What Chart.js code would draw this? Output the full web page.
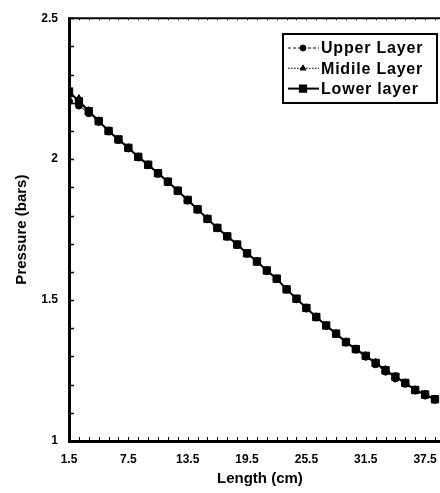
<!DOCTYPE html>
<html><head><meta charset="utf-8">
<script src="https://cdn.jsdelivr.net/npm/chart.js@4"></script>
<style>html,body{margin:0;padding:0;background:#fff;overflow:hidden;width:440px;height:493px}
#wrap{width:457px;height:493px;position:relative}</style>
</head><body><div id="wrap"><canvas id="c" width="457" height="493"></canvas></div>
<script>
const lengthCm = [1.5,2.5,3.5,4.5,5.5,6.5,7.5,8.5,9.5,10.5,11.5,12.5,13.5,14.5,15.5,16.5,17.5,18.5,19.5,20.5,21.5,22.5,23.5,24.5,25.5,26.5,27.5,28.5,29.5,30.5,31.5,32.5,33.5,34.5,35.5,36.5,37.5,38.5];
const upperLayer = [2.205,2.19,2.163,2.132,2.098,2.068,2.038,2.006,1.978,1.948,1.918,1.886,1.853,1.820,1.787,1.755,1.725,1.695,1.664,1.635,1.603,1.574,1.537,1.503,1.470,1.438,1.408,1.379,1.349,1.324,1.299,1.272,1.246,1.222,1.203,1.179,1.161,1.146];
const midileLayer = [2.228,2.215,2.172,2.136,2.101,2.071,2.041,2.009,1.981,1.951,1.921,1.889,1.856,1.823,1.789,1.757,1.727,1.698,1.667,1.638,1.606,1.577,1.539,1.503,1.473,1.441,1.411,1.382,1.352,1.327,1.303,1.279,1.254,1.230,1.207,1.182,1.166,1.149];
const lowerLayer = [2.240,2.205,2.170,2.135,2.100,2.070,2.040,2.008,1.980,1.950,1.920,1.888,1.855,1.822,1.788,1.756,1.726,1.697,1.666,1.637,1.605,1.576,1.538,1.505,1.472,1.440,1.410,1.381,1.351,1.326,1.302,1.277,1.251,1.228,1.206,1.181,1.165,1.148];
const xTickLabels = [1.5,7.5,13.5,19.5,25.5,31.5,37.5];
const yTickLabels = [1,1.5,2,2.5];
const seriesNames = ['Upper Layer','Midile Layer','Lower layer'];

const toPts = arr => lengthCm.map((x,i)=>({x:x,y:arr[i]}));
const FONT = '"Liberation Sans", Arial, sans-serif';

const axesPlugin = {
  id:'axesDraw',
  beforeDatasetsDraw(chart){
    const {ctx, chartArea:a, scales:{x,y}} = chart;
    ctx.save();
    ctx.strokeStyle='#000';
    ctx.lineWidth=1.5;
    for(let v=10; v<=25; v++){
      const py = Math.round(y.getPixelForValue(v/10))+0.5;
      ctx.beginPath(); ctx.moveTo(a.left, py); ctx.lineTo(a.left+5, py); ctx.stroke();
    }
    ctx.lineWidth=1;
    lengthCm.forEach(v=>{
      const px = Math.round(x.getPixelForValue(v))+0.5;
      ctx.beginPath(); ctx.moveTo(px, a.bottom); ctx.lineTo(px, a.bottom-4); ctx.stroke();
      ctx.beginPath(); ctx.moveTo(px, a.top); ctx.lineTo(px, a.top+2); ctx.stroke();
    });
    ctx.lineWidth=2;
    ctx.beginPath(); ctx.moveTo(a.left, a.top); ctx.lineTo(a.right, a.top); ctx.stroke();
    ctx.lineWidth=3;
    ctx.beginPath(); ctx.moveTo(a.left+0.5, a.top-1); ctx.lineTo(a.left+0.5, a.bottom+1.5); ctx.stroke();
    ctx.beginPath(); ctx.moveTo(a.left-1, a.bottom+0.5); ctx.lineTo(a.right, a.bottom+0.5); ctx.stroke();
    ctx.restore();
  }
};

const legendPlugin = {
  id:'boxLegend',
  afterDraw(chart){
    const ctx = chart.ctx;
    const bx=283, by=34, bw=154, bh=69;
    ctx.save();
    ctx.fillStyle='#fff';
    ctx.fillRect(bx,by,bw,bh);
    ctx.strokeStyle='#000'; ctx.lineWidth=2;
    ctx.strokeRect(bx,by,bw,bh);
    chart.data.datasets.forEach((ds,i)=>{
      const cy = by + 14 + i*20.3;
      ctx.strokeStyle='#000';
      ctx.lineWidth = ds.borderWidth;
      ctx.setLineDash(ds.borderDash || []);
      ctx.beginPath(); ctx.moveTo(bx+5, cy); ctx.lineTo(bx+36, cy); ctx.stroke();
      ctx.setLineDash([]);
      ctx.fillStyle='#000';
      Chart.helpers.drawPoint(ctx, {pointStyle: ds.pointStyle, radius: ds.pointRadius*0.85, borderWidth:1}, bx+20, cy);
      ctx.fillStyle='#000';
      ctx.font = 'bold 16px '+FONT;
      ctx.letterSpacing = '0.8px';
      ctx.textBaseline='middle'; ctx.textAlign='left';
      ctx.fillText(ds.label, bx+38, cy+1);
    });
    ctx.restore();
  }
};

new Chart(document.getElementById('c'), {
  type:'line',
  data:{
    datasets:[
      {label:seriesNames[0], data:toPts(upperLayer), borderColor:'#000', backgroundColor:'#000', borderWidth:1, borderDash:[3,2], pointStyle:'circle', pointRadius:3.5, pointBorderWidth:1, order:2},
      {label:seriesNames[1], data:toPts(midileLayer), borderColor:'#000', backgroundColor:'#000', borderWidth:1, borderDash:[1.5,1.5], pointStyle:'triangle', pointRadius:4, pointBorderWidth:1, order:1},
      {label:seriesNames[2], data:toPts(lowerLayer), borderColor:'#000', backgroundColor:'#000', borderWidth:2, pointStyle:'rect', pointRadius:5.2, pointBorderWidth:1, order:0}
    ]
  },
  options:{
    responsive:false, animation:false, devicePixelRatio:1,
    layout:{padding:{top:17,left:0,right:0,bottom:0}},
    plugins:{legend:{display:false}, tooltip:{enabled:false}},
    elements:{line:{tension:0}},
    scales:{
      x:{type:'linear', min:1.5, max:40.1,
        afterBuildTicks: s => { s.ticks = xTickLabels.map(v=>({value:v})); },
        afterFit: s => { s.height = 52; },
        grid:{display:false, drawTicks:false}, border:{display:false},
        ticks:{autoSkip:false, maxRotation:0, padding:11, color:'#000', font:{family:FONT, size:12, weight:'bold'}, callback:v=>Number(v).toFixed(1)},
        title:{display:true, text:'Length (cm)', color:'#000', font:{family:FONT, size:15, weight:'bold'}, padding:{top:0,bottom:5}}
      },
      y:{type:'linear', min:1, max:2.5,
        afterBuildTicks: s => { s.ticks = yTickLabels.map(v=>({value:v})); },
        afterFit: s => { s.width = 69; },
        grid:{display:false, drawTicks:false}, border:{display:false},
        ticks:{padding:11, color:'#000', font:{family:FONT, size:12, weight:'bold'}, callback:v=>String(v)},
        title:{display:true, text:'Pressure (bars)', color:'#000', font:{family:FONT, size:15, weight:'bold'}, padding:{top:13,bottom:0}}
      }
    }
  },
  plugins:[axesPlugin, legendPlugin]
});
</script></body></html>
